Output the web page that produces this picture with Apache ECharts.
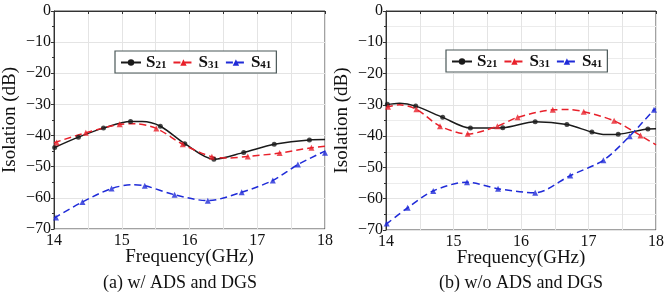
<!DOCTYPE html>
<html>
<head>
<meta charset="utf-8">
<script src="https://cdn.jsdelivr.net/npm/echarts@6/dist/echarts.min.js"></script>
<style>
  html, body { margin: 0; padding: 0; background: #fff; }
  #chart { width: 668px; height: 300px; }
</style>
</head>
<body>
<div id="chart"></div>
<script>
// ---- (a) w/ ADS and DGS ----
const s21aF = [14.0, 14.36, 14.73, 15.13, 15.3, 15.57, 15.93, 16.36, 16.80, 17.25, 17.77, 18.0];
const s21aV = [-43.9, -40.5, -37.6, -35.5, -35.5, -37.0, -42.6, -47.6, -45.4, -42.8, -41.4, -41.3];
const s21aMF = [14.01, 14.36, 14.73, 15.13, 15.57, 15.93, 16.36, 16.80, 17.25, 17.77];
const s21aMV = [-43.8, -40.5, -37.6, -35.5, -37.0, -42.6, -47.6, -45.4, -42.8, -41.4];

const s31aF = [14.0, 14.47, 14.97, 15.2, 15.51, 15.90, 16.33, 16.55, 16.86, 17.33, 17.80, 18.0];
const s31aV = [-42.3, -39.1, -36.4, -36.2, -37.7, -42.8, -46.8, -47.2, -46.7, -45.6, -43.9, -43.4];
const s31aMF = [14.04, 14.47, 14.97, 15.51, 15.90, 16.33, 16.86, 17.33, 17.80];
const s31aMV = [-42.2, -39.1, -36.4, -37.7, -42.8, -46.8, -46.7, -45.6, -43.9];

const s41aF = [14.0, 14.42, 14.85, 15.15, 15.34, 15.78, 16.27, 16.77, 17.23, 17.60, 18.0];
const s41aV = [-66.5, -61.3, -57.0, -55.8, -56.1, -59.0, -60.9, -58.2, -54.4, -49.3, -45.0];
const s41aMF = [14.03, 14.42, 14.85, 15.34, 15.78, 16.27, 16.77, 17.23, 17.60, 18.0];
const s41aMV = [-66.3, -61.3, -57.0, -56.1, -59.0, -60.9, -58.2, -54.4, -49.3, -45.5];

// ---- (b) w/o ADS and DGS ----
const s21bF = [14.0, 14.2, 14.44, 14.84, 15.25, 15.73, 16.21, 16.68, 17.05, 17.25, 17.44, 17.88, 18.0];
const s21bV = [-30.0, -29.5, -30.4, -34.0, -37.4, -37.3, -35.4, -36.3, -38.7, -39.5, -39.4, -37.7, -37.6];
const s21bMF = [14.02, 14.44, 14.84, 15.25, 15.73, 16.21, 16.68, 17.05, 17.44, 17.88];
const s21bMV = [-29.8, -30.4, -34.0, -37.4, -37.3, -35.4, -36.3, -38.7, -39.4, -37.7];

const s31bF = [14.0, 14.2, 14.45, 14.80, 15.21, 15.65, 15.95, 16.47, 16.7, 16.93, 17.38, 17.77, 18.0];
const s31bV = [-30.8, -30.0, -31.4, -36.8, -39.3, -36.8, -34.0, -31.6, -31.5, -32.2, -35.1, -39.8, -42.8];
const s31bMF = [14.03, 14.45, 14.80, 15.21, 15.65, 15.95, 16.47, 16.93, 17.38, 17.77];
const s31bMV = [-30.6, -31.4, -36.8, -39.2, -36.8, -34.0, -31.6, -32.2, -35.1, -39.8];

const s41bF = [14.0, 14.32, 14.70, 15.20, 15.66, 16.21, 16.73, 17.22, 17.61, 17.97, 18.0];
const s41bV = [-68.2, -62.9, -57.5, -54.7, -56.8, -58.1, -52.6, -47.7, -40.0, -31.6, -31.2];
const s41bMF = [14.01, 14.32, 14.70, 15.20, 15.66, 16.21, 16.73, 17.22, 17.61, 17.97];
const s41bMV = [-67.9, -62.9, -57.5, -54.7, -56.8, -58.1, -52.6, -47.7, -40.0, -31.6];

const seriesNames = ['S21', 'S31', 'S41'];
const captions = ['(a) w/ ADS and DGS', '(b) w/o ADS and DGS'];

const FONT = 'Liberation Serif';
const colors = { S21: '#1a1a1a', S31: '#e8202a', S41: '#1f2bd8' };
const symbols = { S21: 'circle', S31: 'triangle', S41: 'triangle' };

const zip = (f, v) => f.map((x, i) => [x, v[i]]);

const chart = echarts.init(document.getElementById('chart'));

const grids = [
  { left: 53, top: 11, width: 272, height: 218 },
  { left: 386, top: 11, width: 270, height: 219 }
];

function xAxisFor(i) {
  return {
    gridIndex: i, type: 'value', min: 14, max: 18, interval: 0.5,
    name: 'Frequency(GHz)', nameLocation: 'middle', nameGap: 19, nameMoveOverlap: false,
    nameTextStyle: { fontFamily: FONT, fontSize: 19, color: '#111' },
    axisLine: { lineStyle: { color: '#333', width: 1 } },
    axisTick: { show: true, length: 3, lineStyle: { color: '#333' } },
    axisLabel: {
      fontFamily: FONT, fontSize: 16, color: '#111', margin: 4,
      formatter: v => (Number.isInteger(v) ? String(v) : '')
    },
    splitLine: { show: true, lineStyle: { color: '#e4e4e4', width: 1 } }
  };
}

function yAxisFor(i, minorGrid) {
  return {
    gridIndex: i, type: 'value', min: -70, max: 0, interval: 10,
    name: 'Isolation (dB)', nameLocation: 'middle', nameGap: 34, nameMoveOverlap: false,
    nameTextStyle: { fontFamily: FONT, fontSize: 19, color: '#111' },
    axisLine: { show: true, lineStyle: { color: '#333', width: 1 } },
    axisTick: { show: true, length: 3, lineStyle: { color: '#333' } },
    minorTick: { show: true, splitNumber: 2, length: 2, lineStyle: { color: '#333' } },
    minorSplitLine: { show: minorGrid, lineStyle: { color: '#ececec' } },
    axisLabel: {
      fontFamily: FONT, fontSize: 16, color: '#111', margin: 3,
      formatter: v => String(v).replace('-', '\u2212')
    },
    splitLine: { show: true, lineStyle: { color: '#e4e4e4', width: 1 } }
  };
}

const curves = [
  [[s21aF, s21aV, s21aMF, s21aMV], [s31aF, s31aV, s31aMF, s31aMV], [s41aF, s41aV, s41aMF, s41aMV]],
  [[s21bF, s21bV, s21bMF, s21bMV], [s31bF, s31bV, s31bMF, s31bMV], [s41bF, s41bV, s41bMF, s41bMV]]
];

const series = [];
curves.forEach((group, gi) => {
  group.forEach((c, si) => {
    const name = seriesNames[si];
    const dashed = name !== 'S21';
    series.push({
      name, type: 'line', xAxisIndex: gi, yAxisIndex: gi,
      data: zip(c[0], c[1]), smooth: 0.3,
      symbol: symbols[name], symbolSize: 6, showSymbol: false,
      color: colors[name],
      lineStyle: { color: colors[name], width: 1.5, type: dashed ? [7, 4] : 'solid' },
      itemStyle: { color: colors[name] },
      z: 3 + si
    });
    series.push({
      name, type: 'scatter', xAxisIndex: gi, yAxisIndex: gi,
      data: zip(c[2], c[3]),
      symbol: symbols[name], symbolSize: name === 'S21' ? 5 : 6,
      itemStyle: { color: colors[name] },
      z: 6 + si
    });
  });
});

const legendCommon = {
  data: seriesNames,
  orient: 'horizontal',
  itemWidth: 20, itemHeight: 8, itemGap: 6,
  padding: [3, 5, 2, 5],
  borderColor: '#4a5858', borderWidth: 1.2, backgroundColor: '#fff',
  selectedMode: false,
  formatter: n => '{b|S}{s|' + n.slice(1) + '}',
  textStyle: {
    color: '#111',
    rich: {
      b: { fontFamily: FONT, fontSize: 17, fontWeight: 'bold', color: '#111' },
      s: { fontFamily: FONT, fontSize: 11, fontWeight: 'bold', color: '#111', verticalAlign: 'bottom', padding: [5, 0, 0, 0] }
    }
  }
};

const option = {
  animation: false,
  backgroundColor: '#fff',
  title: [
    { text: captions[0], left: 175, top: 269, textAlign: 'center',
      textStyle: { fontFamily: FONT, fontSize: 18, fontWeight: 'normal', color: '#111' } },
    { text: captions[1], left: 516, top: 269, textAlign: 'center',
      textStyle: { fontFamily: FONT, fontSize: 18, fontWeight: 'normal', color: '#111' } }
  ],
  legend: [
    Object.assign({}, legendCommon, { left: 115, top: 51 }),
    Object.assign({}, legendCommon, { left: 446, top: 50 })
  ],
  grid: grids.map(g => Object.assign({ show: true, borderColor: '#444', borderWidth: 1 }, g)),
  xAxis: [xAxisFor(0), xAxisFor(1)],
  yAxis: [yAxisFor(0, false), yAxisFor(1, true)],
  series
};

chart.setOption(option);
</script>
</body>
</html>
